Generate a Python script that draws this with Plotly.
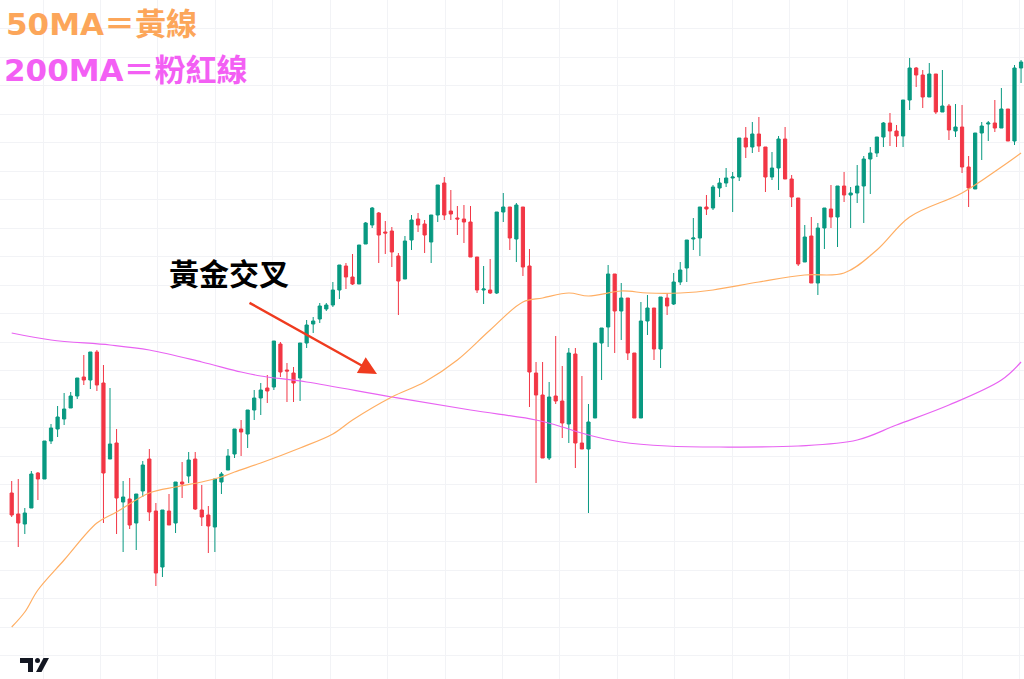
import plotly.graph_objects as go

# ---- candle data (index = trading session, price units) ----
opens = [207,186,176,192,227,221,259,271,281,292,304,323,320,348,317,241,257,198,201,177,
         209,241,189,133,189,177,218,224,241,190,185,173,218,230,246,271,266,290,302,312,
         313,356,330,327,322,357,376,381,391,395,410,434,423,416,456,475,487,468,469,444,
         421,460,481,476,458,485,517,489,482,481,478,443,410,410,407,488,493,461,493,434,
         327,305,242,304,299,276,346,257,251,282,357,373,426,389,402,347,282,379,392,351,
         402,396,418,432,461,462,493,492,512,517,522,523,562,553,566,553,523,532,561,521,
         502,438,464,417,472,491,483,514,505,507,514,541,547,563,577,569,564,600,632,625,
         603,626,588,594,569,573,533,511,567,576,577,572,591,559,632]
highs = [219,221,192,229,228,259,276,294,307,308,322,345,348,350,335,312,271,219,222,206,
         239,251,197,190,206,218,238,248,248,215,194,221,228,251,271,280,290,310,317,325,
         359,358,337,333,357,380,383,397,397,418,435,437,446,455,478,493,488,479,473,447,
         464,485,487,480,485,515,523,510,494,495,494,443,434,441,488,507,493,497,493,451,
         338,338,318,364,334,352,352,324,296,357,372,435,426,417,402,347,398,405,392,403,
         407,427,438,460,482,493,505,515,522,532,528,562,573,578,583,553,548,564,573,525,
         502,475,483,477,492,515,514,528,513,535,544,553,563,578,587,575,600,642,633,630,
         637,626,630,596,596,595,544,567,578,579,600,612,591,635,640]
lows = [183,153,166,192,200,221,256,263,275,292,301,315,311,309,177,241,166,148,171,150,
        203,179,114,123,175,167,202,217,190,174,147,148,206,230,242,244,252,280,285,297,
        310,323,298,298,299,352,367,377,389,393,401,411,415,416,456,472,437,446,433,385,
        421,450,468,447,437,478,480,480,465,457,443,407,396,406,406,478,450,438,424,293,
        217,242,240,296,262,257,232,251,187,282,320,353,347,360,340,282,282,365,340,332,
        385,395,415,418,450,444,485,490,503,513,488,519,542,547,548,508,520,510,521,493,
        434,438,417,405,451,472,453,498,472,497,477,506,543,553,554,553,553,590,613,592,
        603,586,588,560,563,527,493,511,540,559,568,572,559,555,617]
closes = [185,177,187,226,221,259,272,283,291,304,322,320,348,315,227,256,202,203,175,206,
          235,188,127,190,175,218,216,240,191,183,174,221,226,244,271,268,290,302,310,309,
          359,328,329,317,357,375,379,394,395,410,435,423,416,455,477,492,465,467,448,419,
          459,480,475,465,485,515,485,486,481,478,443,410,411,407,488,493,462,495,433,328,
          305,242,303,299,277,347,257,251,278,357,372,426,389,402,347,282,379,392,351,403,
          394,418,430,460,462,493,491,513,517,522,523,562,553,566,554,523,532,561,521,503,
          436,463,417,472,492,483,514,505,507,514,541,547,563,577,569,564,600,632,625,603,
          626,588,594,570,573,533,512,567,574,577,572,591,559,632,638]
sessions = list(range(len(opens)))

# ---- moving averages (session index, value) ----
ma50_idx = [0, 2, 4, 8, 13, 16, 21, 25, 29, 32, 34, 38, 44, 49, 52, 58, 63, 68, 73, 78,
            81, 85, 88, 93, 97, 102, 107, 114, 121, 127, 132, 137, 145, 151, 154]
ma50_val = [73, 88, 110, 140, 177, 188, 207, 213, 218, 223, 228, 237, 252, 266, 280, 303, 318,
            340, 370, 398, 402, 407, 404, 409, 407, 407, 410, 418, 425, 427, 450, 483, 507,
            533, 547]
ma200_idx = [0, 6, 15, 21, 29, 35, 38, 45, 58, 70, 80, 83, 88, 93, 100, 108, 120, 129, 135,
             143, 151, 154]
ma200_val = [367, 360, 355, 350, 338, 328, 324, 318, 303, 290, 280, 275, 265, 258, 254, 253,
             254, 260, 275, 295, 320, 338]

legend_lines = ["50MA＝黃線", "200MA＝粉紅線"]
callout = "黃金交叉"

UP, DOWN = "#089981", "#F23645"
W, H = 1024, 679

def px(x, y):
    return x / W, 1 - y / H

fig = go.Figure()
fig.add_trace(go.Scatter(x=ma200_idx, y=ma200_val, mode="lines",
                         line=dict(color="#E863F2", width=1.2, shape="spline"),
                         hoverinfo="skip"))
fig.add_trace(go.Scatter(x=ma50_idx, y=ma50_val, mode="lines",
                         line=dict(color="#FFAE63", width=1.2, shape="spline"),
                         hoverinfo="skip"))
fig.add_trace(go.Candlestick(
    x=sessions, open=opens, high=highs, low=lows, close=closes,
    increasing=dict(line=dict(color=UP, width=1), fillcolor=UP),
    decreasing=dict(line=dict(color=DOWN, width=1), fillcolor=DOWN),
    whiskerwidth=0,
))

# legend text
x0, y0 = px(4, 24)
fig.add_annotation(x=x0, y=y0, xref="paper", yref="paper", xanchor="left", yanchor="middle",
                   text="<b>" + legend_lines[0] + "</b>", showarrow=False,
                   font=dict(family="DejaVu Sans, Noto Sans CJK TC", size=31, color="#FCA65A"))
x1, y1 = px(2, 70)
fig.add_annotation(x=x1, y=y1, xref="paper", yref="paper", xanchor="left", yanchor="middle",
                   text="<b>" + legend_lines[1] + "</b>", showarrow=False,
                   font=dict(family="DejaVu Sans, Noto Sans CJK TC", size=31, color="#F35FF4"))
# callout text
cx, cy = px(229, 272)
fig.add_annotation(x=cx, y=cy, xref="paper", yref="paper", xanchor="center", yanchor="middle",
                   text="<b>" + callout + "</b>", showarrow=False,
                   font=dict(family="Noto Sans CJK TC", size=30, color="#000000"))
# arrow
ax_, ay_ = px(377, 374)
fig.add_annotation(x=ax_, y=ay_, xref="paper", yref="paper", text="", showarrow=True,
                   ax=-129, ay=-72, arrowhead=2, arrowsize=1.5, arrowwidth=2.4,
                   arrowcolor="#EF3B1F", standoff=0)

# TradingView-like logo
def path(points):
    s = ""
    for i, (x, y) in enumerate(points):
        X, Y = px(x, y)
        s += ("M" if i == 0 else "L") + f"{X:.5f},{Y:.5f} "
    return s + "Z"

logo = "#131722"
fig.add_shape(type="path", xref="paper", yref="paper", line_width=0, fillcolor=logo,
              path=path([(20, 658), (33, 658), (33, 672), (28, 672), (28, 663), (20, 663)]))
d0, d1 = px(35, 658), px(40, 663)
fig.add_shape(type="circle", xref="paper", yref="paper", line_width=0, fillcolor=logo,
              x0=d0[0], y0=d0[1], x1=d1[0], y1=d1[1])
fig.add_shape(type="path", xref="paper", yref="paper", line_width=0, fillcolor=logo,
              path=path([(36, 672), (41.5, 672), (49, 658), (43.5, 658)]))

grid = "#F2F3F6"
fig.update_layout(
    width=W, height=H, margin=dict(l=0, r=0, t=0, b=0),
    paper_bgcolor="white", plot_bgcolor="white", showlegend=False,
    xaxis=dict(range=[-1.785, 154.45], rangeslider=dict(visible=False), showticklabels=False,
               showgrid=True, gridcolor=grid, gridwidth=1, tick0=4.776, dtick=8.764,
               zeroline=False, showline=False, ticks=""),
    yaxis=dict(range=[21, 700], showticklabels=False, showgrid=True, gridcolor=grid,
               gridwidth=1, tick0=130, dtick=28.5, zeroline=False, showline=False, ticks=""),
)

fig.write_html("out.html", config={"displayModeBar": False},
               post_script="document.body.style.margin='0';")
